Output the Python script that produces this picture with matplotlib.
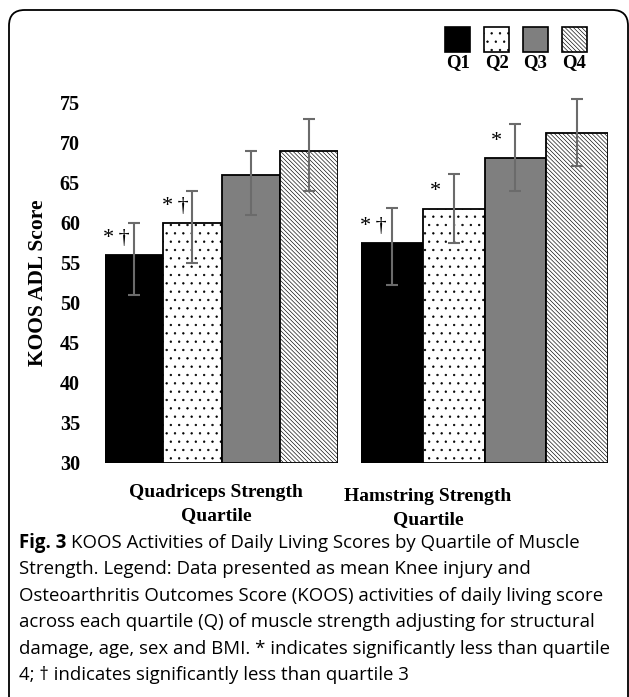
import matplotlib
matplotlib.use("Agg")
import matplotlib.pyplot as plt
from matplotlib.patches import FancyBboxPatch, Rectangle
import numpy as np

# data
quartiles = ["Q1", "Q2", "Q3", "Q4"]
groups = ["Quadriceps Strength\nQuartile", "Hamstring Strength\nQuartile"]
quad_mean = [56.0, 60.0, 66.0, 69.0]
quad_low = [51.0, 55.0, 61.0, 64.0]
quad_high = [60.0, 64.0, 69.0, 73.0]
ham_mean = [57.5, 61.8, 68.1, 71.3]
ham_low = [52.3, 57.5, 64.0, 67.1]
ham_high = [61.9, 66.1, 72.4, 75.5]
quad_sig = ["*\u2009\u2020", "*\u2009\u2020", "", ""]
ham_sig = ["*\u2009\u2020", "*", "*", ""]
yticks = [30, 35, 40, 45, 50, 55, 60, 65, 70, 75]

caption_lines = [
    "KOOS Activities of Daily Living Scores by Quartile of Muscle",
    "Strength. Legend: Data presented as mean Knee injury and",
    "Osteoarthritis Outcomes Score (KOOS) activities of daily living score",
    "across each quartile (Q) of muscle strength adjusting for structural",
    "damage, age, sex and BMI. * indicates significantly less than quartile",
    "4; \u2020 indicates significantly less than quartile 3",
]

fills = ["black", "white", "#7f7f7f", "white"]
hatches = [None, "..", None, "\\\\\\\\\\\\\\\\"]
serif = "Liberation Serif"
plt.rcParams["hatch.linewidth"] = 0.45

W, H = 629, 697
fig = plt.figure(figsize=(W / 100, H / 100), dpi=100)


def px_axes(x0, x1, y_top, y_bot):
    return fig.add_axes([x0 / W, 1 - y_bot / H, (x1 - x0) / W, (y_bot - y_top) / H])


# y=30 at 463 px, 8 px per unit, top of axes at 77
ax_l = px_axes(105, 338, 463 - 47 * 8, 463)
ax_r = px_axes(361, 608, 463 - 47 * 8, 463)

sets = [(ax_l, quad_mean, quad_low, quad_high, quad_sig),
        (ax_r, ham_mean, ham_low, ham_high, ham_sig)]
x = np.arange(len(quartiles))
for ax, mean, low, high, sig in sets:
    mean = np.array(mean)
    err = [mean - np.array(low), np.array(high) - mean]
    for i in range(len(quartiles)):
        ax.bar(x[i], mean[i] - 30, bottom=30, width=1.0, color=fills[i],
               edgecolor="black", linewidth=1.3, hatch=hatches[i], zorder=2)
    ax.errorbar(x, mean, yerr=err, fmt="none", ecolor="#6b6b6b",
                elinewidth=1.5, capsize=4, capthick=1.5, zorder=3)
    for i, s in enumerate(sig):
        if s:
            ax.text(x[i] - 0.3, mean[i] + 2.1, s, ha="center", va="center",
                    fontsize=16, family=[serif, "DejaVu Serif"])
    ax.set_xlim(-0.5, 3.5)
    ax.set_ylim(30, 77)
    ax.set_xticks([])
    for sp in ax.spines.values():
        sp.set_visible(False)

ax_l.set_yticks(yticks)
ax_l.set_yticklabels([str(t) for t in yticks], fontsize=14.5, family=serif,
                     fontweight="bold")
ax_l.tick_params(axis="y", length=0, pad=18)
ax_r.set_yticks([])

fig.text(38 / W, 1 - 283 / H, "KOOS ADL Score", rotation=90, ha="center",
         va="center", fontsize=15.5, family=serif, fontweight="bold")
fig.text(216 / W, 1 - 504 / H, groups[0], ha="center", va="center",
         fontsize=14, family=serif, fontweight="bold", linespacing=1.5)
fig.text(428 / W, 1 - 508 / H, groups[1], ha="center", va="center",
         fontsize=14, family=serif, fontweight="bold", linespacing=1.5)

# legend boxes with labels underneath
ax_leg = px_axes(445, 587, 27, 52)
ax_leg.set_xlim(0, 4 - 0.35)
ax_leg.set_ylim(0, 1)
ax_leg.axis("off")
for i, q in enumerate(quartiles):
    ax_leg.add_patch(Rectangle((i, 0), 0.65, 1, facecolor=fills[i],
                               edgecolor="black", linewidth=1.2,
                               hatch=hatches[i], clip_on=False))
    ax_leg.text(i + 0.325, -0.42, q, ha="center", va="center", fontsize=13.5,
                family=serif, fontweight="bold")

# caption
cap_y = [543, 569, 596, 622, 649, 675]
fig.canvas.draw()
rend = fig.canvas.get_renderer()
t0 = fig.text(19 / W, 1 - cap_y[0] / H, "Fig. 3", ha="left", va="center",
              fontsize=13.4, family="Open Sans", fontweight="bold")
bb = t0.get_window_extent(renderer=rend)
fig.text((bb.x1 + 5) / W, 1 - cap_y[0] / H, caption_lines[0], ha="left",
         va="center", fontsize=13.4, family="Open Sans")
for line, yy in zip(caption_lines[1:], cap_y[1:]):
    fig.text(19 / W, 1 - yy / H, line, ha="left", va="center", fontsize=13.4,
             family="Open Sans")

# rounded frame (bottom edge runs off the page)
frame = FancyBboxPatch((9 / W, -0.1), 619 / W, 1.1 - 10 / H,
                       boxstyle="round,pad=0,rounding_size=0.025",
                       transform=fig.transFigure, facecolor="none",
                       edgecolor="black", linewidth=1.3,
                       mutation_aspect=W / H)
fig.patches.append(frame)

fig.savefig("out.png", dpi=100)
